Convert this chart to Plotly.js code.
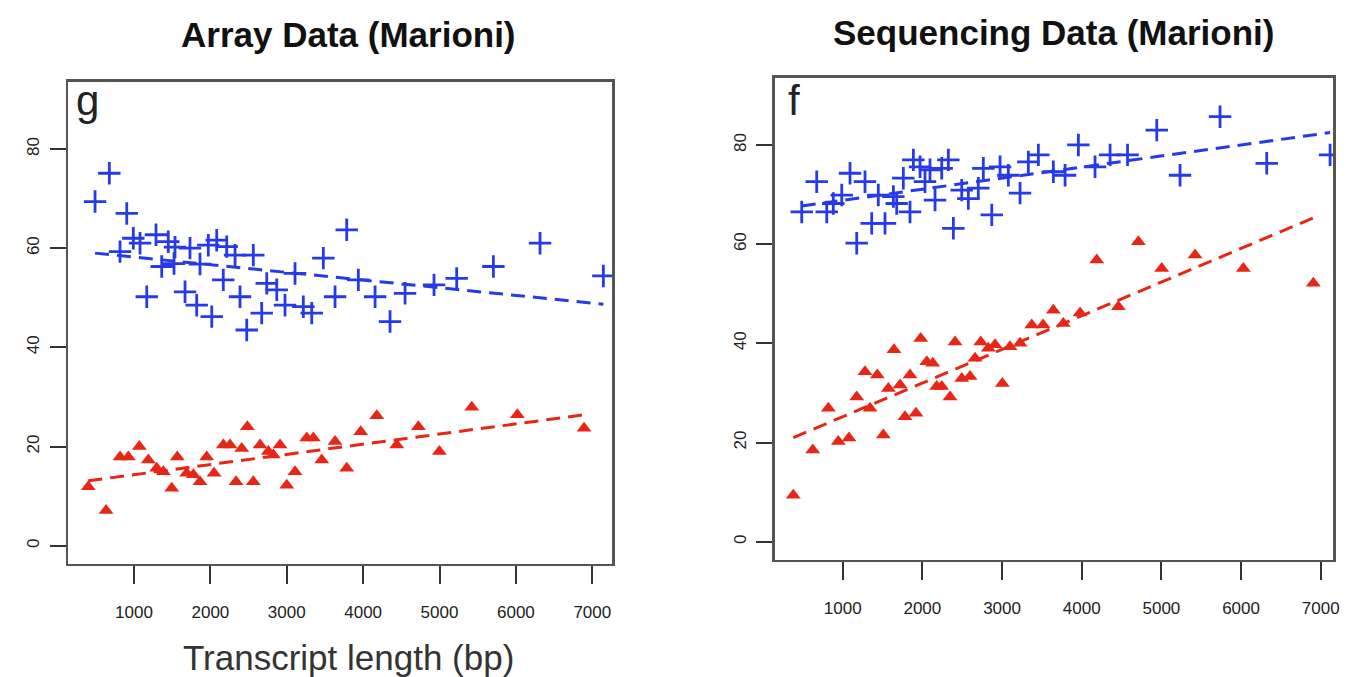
<!DOCTYPE html>
<html>
<head>
<meta charset="utf-8">
<script src="https://cdn.plot.ly/plotly-3.0.1.min.js"></script>
<style>
html,body{margin:0;padding:0;background:#fff;}
#chart{width:1352px;height:677px;}
</style>
</head>
<body>
<div id="chart"></div>
<script>
// ---- Array Data (Marioni), panel g ----
const arrayBlueX = [490,677,817,905,991,1079,1167,1288,1363,1449,1524,1537,1668,1733,1821,1864,1973,2018,2083,2169,2214,2323,2388,2476,2562,2672,2738,2869,2977,3108,3217,3327,3479,3632,3785,3937,4156,4352,4549,4928,5225,5705,6316,7145];
const arrayBlueY = [69.4,75.1,59.3,67.0,62.0,61.0,50.2,62.7,56.3,61.3,56.9,60.2,51.2,60.0,48.5,56.8,60.6,46.2,61.6,53.6,60.3,58.6,50.2,43.5,58.6,46.9,52.9,51.6,48.5,54.9,48.2,46.9,58.0,50.2,63.7,53.6,50.2,45.2,50.9,52.6,53.9,56.3,61.0,54.4];
const arrayRedX = [402,634,817,926,1070,1188,1297,1384,1494,1567,1690,1777,1864,1952,2048,2170,2257,2336,2410,2484,2562,2650,2759,2824,2912,3000,3108,3261,3348,3458,3632,3785,3968,4178,4440,4723,4998,5422,6019,6892];
const arrayRedY = [11.9,7.1,17.9,17.9,20.0,17.3,15.6,14.9,11.6,17.9,14.6,14.3,12.9,17.9,14.6,20.3,20.3,12.9,19.6,24.0,12.9,20.3,19.0,18.3,20.3,12.2,14.9,21.7,21.7,17.3,21.0,15.6,23.0,26.2,20.3,24.0,19.0,27.9,26.4,23.7];
const arrayBlueFitX = [490,7145];
const arrayBlueFitY = [59.0,48.7];
const arrayRedFitX = [402,6892];
const arrayRedFitY = [13.1,26.4];

// ---- Sequencing Data (Marioni), panel f ----
const seqBlueX = [486,674,800,882,988,1092,1176,1280,1364,1447,1531,1636,1678,1761,1845,1887,1971,2033,2096,2159,2243,2326,2389,2494,2577,2702,2765,2871,2975,3079,3226,3330,3456,3644,3791,3958,4167,4356,4575,4942,5234,5736,6322,7117];
const seqBlueY = [66.5,72.6,66.5,68.2,69.9,74.3,60.2,72.6,64.2,69.9,64.2,69.6,68.2,73.3,66.5,77.0,75.6,72.6,75.0,68.9,75.3,77.0,63.2,70.9,69.2,71.3,75.3,65.9,75.6,73.9,70.3,76.6,78.0,74.6,73.9,80.0,75.6,78.0,78.0,83.0,73.9,85.7,76.3,78.0];
const seqRedX = [380,624,820,945,1079,1176,1280,1343,1435,1510,1573,1644,1720,1782,1845,1920,1979,2055,2130,2180,2243,2347,2410,2494,2598,2661,2733,2828,2912,3004,3100,3226,3373,3515,3644,3769,3979,4189,4460,4711,5004,5422,6029,6907];
const seqRedY = [9.4,18.5,26.9,20.2,20.9,29.2,34.3,26.9,33.6,21.5,30.9,38.7,31.6,25.2,33.6,25.9,41.0,36.3,36.0,31.3,31.3,29.2,40.3,32.9,33.3,37.0,40.3,39.0,39.7,31.9,39.3,40.0,43.7,43.7,46.7,44.0,46.1,56.8,47.4,60.5,55.1,57.8,55.1,52.1];
const seqBlueFitX = [486,7117];
const seqBlueFitY = [67.7,82.5];
const seqRedFitX = [380,6907];
const seqRedFitY = [21.0,65.3];

const xTicks = [1000,2000,3000,4000,5000,6000,7000];
const yTicks = [0,20,40,60,80];
const titles = ["Array Data (Marioni)", "Sequencing Data (Marioni)"];
const panelLetters = ["g", "f"];
const xTitle = "Transcript length (bp)";

const BLUE = 'rgb(38,58,232)';
const RED = 'rgb(232,38,22)';

function plus(x, y, xa, ya){
  return {x:x, y:y, xaxis:xa, yaxis:ya, type:'scatter', mode:'markers',
    marker:{symbol:'cross-thin', size:16, color:BLUE, line:{color:BLUE, width:2.8}}, hoverinfo:'skip'};
}
function tri(x, y, xa, ya){
  return {x:x, y:y, xaxis:xa, yaxis:ya, type:'scatter', mode:'markers',
    marker:{symbol:'triangle-up', size:13, color:RED, line:{width:0}}, hoverinfo:'skip'};
}
function fit(x, y, xa, ya, c){
  return {x:x, y:y, xaxis:xa, yaxis:ya, type:'scatter', mode:'lines',
    line:{color:c, width:3, dash:'14px,8px'}, hoverinfo:'skip'};
}

const data = [
  fit(arrayBlueFitX, arrayBlueFitY, 'x', 'y', BLUE),
  fit(arrayRedFitX, arrayRedFitY, 'x', 'y', RED),
  plus(arrayBlueX, arrayBlueY, 'x', 'y'),
  tri(arrayRedX, arrayRedY, 'x', 'y'),
  fit(seqBlueFitX, seqBlueFitY, 'x2', 'y2', BLUE),
  fit(seqRedFitX, seqRedFitY, 'x2', 'y2', RED),
  plus(seqBlueX, seqBlueY, 'x2', 'y2'),
  tri(seqRedX, seqRedY, 'x2', 'y2')
];

const FONT = 'Liberation Sans, Arial, sans-serif';
function xax(domain, range, anchor){
  return {domain:domain, range:range, anchor:anchor, tickmode:'array', tickvals:xTicks,
    ticktext:xTicks.map(String), ticks:'outside', ticklen:18, tickwidth:2, tickcolor:'#333',
    showline:true, mirror:true, linecolor:'#555', linewidth:2.5, showgrid:false, zeroline:false,
    ticklabelstandoff:13, tickfont:{family:FONT, size:17, color:'#222'}};
}
function yax(domain, range, anchor){
  return {domain:domain, range:range, anchor:anchor, tickmode:'array', tickvals:yTicks,
    ticktext:yTicks.map(String), ticks:'outside', ticklen:16, tickwidth:2, tickcolor:'#333',
    tickangle:-90, showline:true, mirror:true, linecolor:'#555', linewidth:2.5, showgrid:false, zeroline:false,
    ticklabelstandoff:4, tickfont:{family:FONT, size:17, color:'#222'}};
}

const layout = {
  width:1352, height:677, margin:{l:0, r:0, t:0, b:0},
  paper_bgcolor:'#fff', plot_bgcolor:'#fff', showlegend:false,
  xaxis: xax([0.0503,0.4530],[136,7264],'y'),
  yaxis: yax([0.1675,0.8796],[-3.6,93.6],'x'),
  xaxis2: xax([0.5732,0.9862],[150,7158],'y2'),
  yaxis2: yax([0.1734,0.8855],[-3.6,93.6],'x2'),
  annotations:[
    {text:'<b>'+titles[0]+'</b>', xref:'paper', yref:'paper', x:348/1352, y:1-35/677, xanchor:'center', yanchor:'middle', showarrow:false, font:{family:FONT, size:35, color:'#111'}},
    {text:'<b>'+titles[1]+'</b>', xref:'paper', yref:'paper', x:1053/1352, y:1-33/677, xanchor:'center', yanchor:'middle', showarrow:false, font:{family:FONT, size:35, color:'#111'}},
    {text:panelLetters[0], xref:'paper', yref:'paper', x:74/1352, y:1-100/677, xanchor:'left', yanchor:'middle', showarrow:false, font:{family:FONT, size:42, color:'#222'}},
    {text:panelLetters[1], xref:'paper', yref:'paper', x:786/1352, y:1-100/677, xanchor:'left', yanchor:'middle', showarrow:false, font:{family:FONT, size:42, color:'#222'}},
    {text:xTitle, xref:'paper', yref:'paper', x:348/1352, y:1-657/677, xanchor:'center', yanchor:'middle', showarrow:false, font:{family:FONT, size:35, color:'#333'}}
  ]
};

Plotly.newPlot('chart', data, layout, {staticPlot:true, displayModeBar:false});
</script>
</body>
</html>
